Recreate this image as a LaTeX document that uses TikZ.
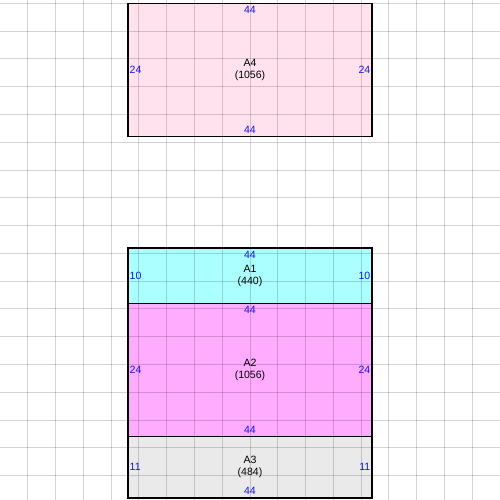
\documentclass[tikz,border=0pt]{standalone}
\usepackage{fontspec}
\setmainfont{Liberation Sans}
\usetikzlibrary{positioning}
\definecolor{fill_a1}{RGB}{172,255,255}
\definecolor{fill_a2}{RGB}{255,172,255}
\definecolor{fill_a3}{RGB}{234,234,234}
\definecolor{fill_a4}{RGB}{255,226,237}
\definecolor{dimblue}{RGB}{20,20,235}
\tikzset{
        % Areas
        area/.style={rectangle, draw=black, line width=0.8pt, inner sep=0pt, outer sep=0pt, align=center, minimum width=44mm, font=\fontsize{5.4}{6.2}\selectfont},
        % Side lengths
        dim_label/.style={inner sep=0pt, outer sep=0pt, text=dimblue, font=\fontsize{5.4}{6.2}\selectfont},
        % Background grid
        grid_line/.style={black, opacity=0.17, line width=0.5pt}
}
\begin{document}
\begin{tikzpicture}[x=1mm, y=1mm]
    \useasboundingbox (0,0.6) rectangle (90,-89.4);
    \node[area, fill=fill_a4, minimum height=24mm] (a4) at (45,-12) {A4\\(1056)};
    \node[area, fill=fill_a1, minimum height=10mm] (a1) at (45,-49) {A1\\(440)};
    \node[area, fill=fill_a2, minimum height=24mm, below=0pt of a1] (a2) {A2\\(1056)};
    \node[area, fill=fill_a3, minimum height=11mm, below=0pt of a2] (a3) {A3\\(484)};
    \foreach \gx in {5,10,...,85}
        \draw[grid_line] (\gx,0.6) -- (\gx,-89.4);
    \foreach \gy in {0,5,...,85}
        \draw[grid_line] (0,-\gy) -- (90,-\gy);
    % A4
    \node[dim_label, below=1.7pt of a4.north] (a4_top) {44};
    \node[dim_label, above=1.5pt of a4.south] (a4_bottom) {44};
    \node[dim_label, right=1pt of a4.west] (a4_left) {24};
    \node[dim_label, left=1pt of a4.east] (a4_right) {24};
    % A1
    \node[dim_label, below=1.7pt of a1.north] (a1_top) {44};
    \node[dim_label, right=1pt of a1.west] (a1_left) {10};
    \node[dim_label, left=1pt of a1.east] (a1_right) {10};
    % A2
    \node[dim_label, below=1.7pt of a2.north] (a2_top) {44};
    \node[dim_label, above=1.5pt of a2.south] (a2_bottom) {44};
    \node[dim_label, right=1pt of a2.west] (a2_left) {24};
    \node[dim_label, left=1pt of a2.east] (a2_right) {24};
    % A3
    \node[dim_label, above=1.5pt of a3.south] (a3_bottom) {44};
    \node[dim_label, right=1pt of a3.west] (a3_left) {11};
    \node[dim_label, left=1pt of a3.east] (a3_right) {11};
\end{tikzpicture}
\end{document}
